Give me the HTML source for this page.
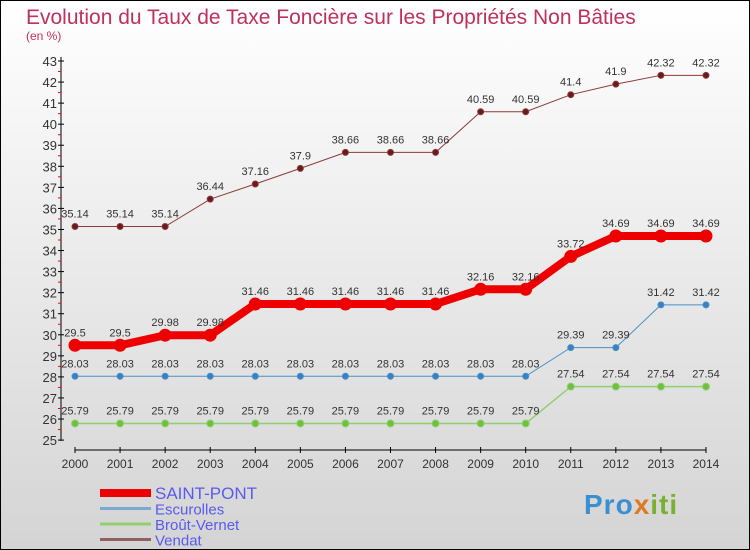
<!DOCTYPE html>
<html><head><meta charset="utf-8"><style>
body{margin:0}
#c{width:750px;height:550px;position:relative;background:linear-gradient(#fff,#d4d4d4);box-sizing:border-box;border:1px solid #000;overflow:hidden}
text{font-family:"Liberation Sans",sans-serif}
</style></head><body>
<div id="c">
<svg id="s" width="750" height="550" style="position:absolute;left:-1px;top:-1px">
<text x="26" y="24" font-size="21" fill="#c0305c">Evolution du Taux de Taxe Foncière sur les Propriétés Non Bâties</text>
<text x="26" y="40" font-size="12" fill="#c0305c">(en %)</text>
<g id="g"></g>
</svg>
<div style="position:absolute;left:583px;top:488px;font:bold 28px 'Liberation Sans',sans-serif;letter-spacing:1px"><span style="color:#3a8fd0">Pro</span><span style="color:#e07a20">x</span><span style="color:#7ab030">iti</span></div>
</div>
<script>
const years=[2000,2001,2002,2003,2004,2005,2006,2007,2008,2009,2010,2011,2012,2013,2014];
const saintPont=[29.5,29.5,29.98,29.98,31.46,31.46,31.46,31.46,31.46,32.16,32.16,33.72,34.69,34.69,34.69];
const escurolles=[28.03,28.03,28.03,28.03,28.03,28.03,28.03,28.03,28.03,28.03,28.03,29.39,29.39,31.42,31.42];
const broutVernet=[25.79,25.79,25.79,25.79,25.79,25.79,25.79,25.79,25.79,25.79,25.79,27.54,27.54,27.54,27.54];
const vendat=[35.14,35.14,35.14,36.44,37.16,37.9,38.66,38.66,38.66,40.59,40.59,41.4,41.9,42.32,42.32];
const yTicks=[25,26,27,28,29,30,31,32,33,34,35,36,37,38,39,40,41,42,43];
const NS='http://www.w3.org/2000/svg',g=document.getElementById('g');
const X=i=>75+i*45.07, Y=v=>61+(43-v)*21.06;
function mk(t,a,p){const e=document.createElementNS(NS,t);for(const k in a)e.setAttribute(k,a[k]);(p||g).appendChild(e);return e;}
let e=mk('line',{x1:61,y1:57,x2:61,y2:441,stroke:'#000'});

e=mk('line',{x1:75,y1:450,x2:706,y2:450,stroke:'#000'});

yTicks.forEach(v=>{mk('line',{x1:58,x2:64,y1:Y(v),y2:Y(v),stroke:'#000'});
 if(v<43)mk('line',{x1:58,x2:61,y1:Y(v+0.5),y2:Y(v+0.5),stroke:'#f00'});
 const t=mk('text',{x:57,y:Y(v)+5,'font-size':13,'text-anchor':'end',fill:'#333'});t.textContent=v;
 });
years.forEach((y,i)=>{mk('line',{x1:X(i),x2:X(i),y1:447,y2:453,stroke:'#000'});
 const t=mk('text',{x:X(i),y:468,'font-size':12,'text-anchor':'middle',fill:'#333'});t.textContent=y;
 });
function series(d,col,w,r,dot,name){
 const l=mk('polyline',{points:d.map((v,i)=>X(i)+','+Y(v)).join(' '),fill:'none',stroke:col,'stroke-width':w});
 
 d.forEach((v,i)=>{const c=mk('circle',{cx:X(i),cy:Y(v),r:r,fill:dot,stroke:col,'stroke-width':1});
  
  const t=mk('text',{x:X(i),y:Y(v)-9,'font-size':11,'text-anchor':'middle',fill:'#333'});t.textContent=v;
  });
}
series(vendat,'#8b3a3a',1,3,'#6a1a1a','vendat');
series(escurolles,'#4a90c8',1,3,'#3a80c0','escurolles');
series(broutVernet,'#90d070',1.5,3.5,'#70c040','brout-vernet');
series(saintPont,'#ee0000',8,6,'#ee0000','saint-pont');
const leg=[['SAINT-PONT','#ee0000',8],['Escurolles','#7aaad0',3],['Broût-Vernet','#90d070',3],['Vendat','#906060',3]];
leg.forEach((L,i)=>{const y=493+i*15.5;
 mk('line',{x1:100,x2:151,y1:y,y2:y,stroke:L[1],'stroke-width':L[2]});
 const t=mk('text',{x:155,y:y+6,'font-size':i?15:17,fill:'#5a5aee'});t.textContent=L[0];
 });
</script>
</body></html>
